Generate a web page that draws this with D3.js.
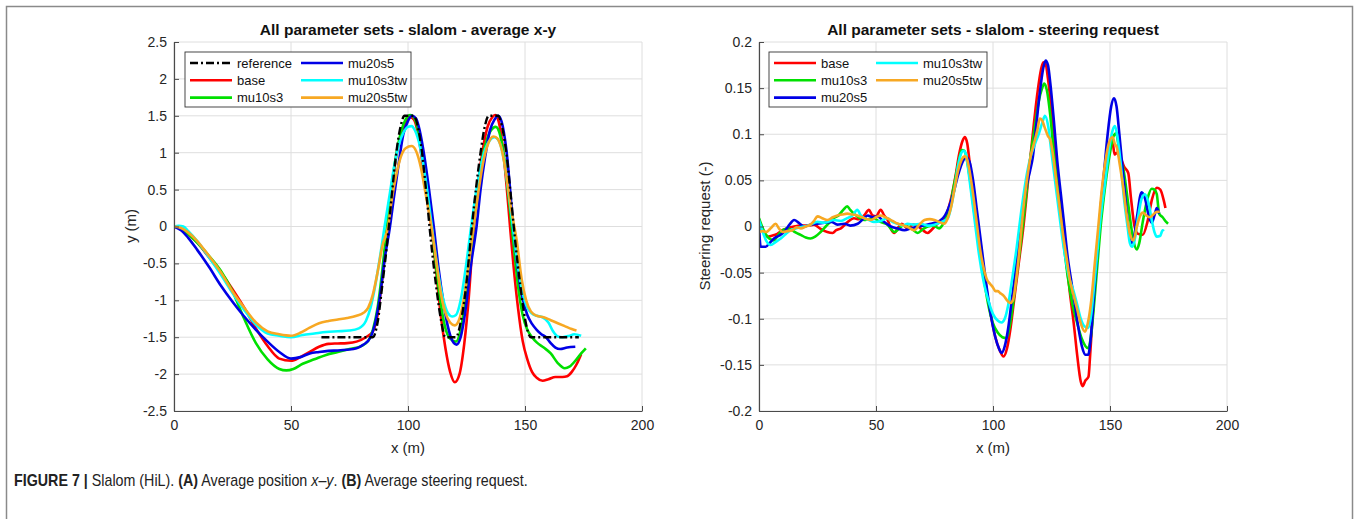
<!DOCTYPE html>
<html>
<head>
<meta charset="utf-8">
<script src="https://cdn.jsdelivr.net/npm/d3@7"></script>
<style>
  body { margin:0; background:#fff; }
  svg { display:block; font-family:"Liberation Sans", Arial, sans-serif; }
</style>
</head>
<body>
<div class="container"></div>
<script>
// ---- data ----
var xTicks = [0, 50, 100, 150, 200];
var xyYTicks = [-2.5, -2, -1.5, -1, -0.5, 0, 0.5, 1, 1.5, 2, 2.5];
var stYTicks = [-0.2, -0.15, -0.1, -0.05, 0, 0.05, 0.1, 0.15, 0.2];

var xyReference = [[63,-1.5],[85,-1.5],[87,-1.3],[89,-0.8],[91.5,-0.1],[93,0.4],[95,1.0],[97,1.38],[98.5,1.5],[102.5,1.5],[104,1.38],[106,1.0],[108,0.4],[109.5,-0.1],[112,-0.8],[114,-1.25],[116,-1.5],[120.5,-1.5],[122.5,-1.3],[124.5,-0.9],[127,-0.1],[129,0.5],[131,1.0],[133,1.38],[134.5,1.5],[138.5,1.5],[140,1.38],[142,1.0],[144,0.4],[145.5,-0.1],[148,-0.8],[150,-1.25],[152.5,-1.5],[173,-1.5]];
var xyBase = [[0,0],[3,-0.03],[6,-0.1],[10,-0.22],[15,-0.42],[20,-0.62],[25,-0.85],[30,-1.1],[35,-1.38],[40,-1.62],[45,-1.79],[50,-1.82],[54,-1.77],[58,-1.7],[62,-1.63],[66,-1.59],[70,-1.585],[74,-1.58],[78,-1.56],[82,-1.5],[85,-1.42],[87,-1.2],[89,-0.7],[91,-0.1],[93,0.5],[95,0.95],[97,1.25],[99,1.42],[101,1.48],[102.5,1.45],[104,1.3],[106,0.9],[108,0.4],[110,0],[112,-0.6],[114,-1.2],[116,-1.65],[118,-1.97],[120,-2.11],[122,-2.0],[124,-1.6],[126,-0.95],[128,-0.05],[130,0.6],[132,1.05],[134,1.35],[136,1.48],[137.2,1.51],[138.5,1.45],[140,1.2],[142,0.6],[143.6,0],[145,-0.5],[147,-1.1],[149,-1.55],[151,-1.8],[153,-1.97],[155,-2.05],[157.5,-2.09],[160,-2.07],[163,-2.04],[166,-2.04],[168,-2.03],[170,-1.97],[172,-1.87],[174,-1.73]];
var xyMu10s3 = [[0,0],[3,-0.03],[6,-0.1],[10,-0.22],[15,-0.4],[20,-0.6],[25,-0.88],[30,-1.25],[35,-1.58],[40,-1.8],[45,-1.93],[48,-1.95],[51,-1.93],[55,-1.86],[60,-1.8],[65,-1.74],[70,-1.7],[75,-1.66],[80,-1.62],[83,-1.55],[85,-1.4],[87,-1.1],[89,-0.6],[91,0],[93,0.55],[95,0.98],[97,1.28],[99,1.45],[101,1.51],[102.5,1.48],[104,1.35],[106,1.0],[108,0.5],[110,0.05],[112,-0.55],[114,-1.05],[116,-1.38],[118,-1.52],[120.5,-1.56],[122.5,-1.4],[124.5,-1.0],[127,-0.3],[129,0.3],[131,0.8],[133,1.1],[135,1.28],[137.5,1.35],[139,1.28],[141,0.95],[143,0.4],[145,-0.2],[147,-0.8],[149,-1.2],[151,-1.4],[153,-1.5],[155,-1.57],[158,-1.64],[161,-1.72],[164,-1.85],[167,-1.92],[169,-1.9],[172,-1.8],[174,-1.72],[176,-1.65]];
var xyMu20s5 = [[0,0],[3,-0.05],[6,-0.15],[10,-0.32],[15,-0.55],[20,-0.8],[25,-1.02],[30,-1.22],[35,-1.4],[40,-1.56],[45,-1.7],[50,-1.79],[54,-1.77],[58,-1.72],[62,-1.7],[66,-1.685],[70,-1.68],[74,-1.67],[78,-1.65],[81,-1.6],[84,-1.5],[86,-1.3],[88,-0.95],[90,-0.45],[92.3,0],[94,0.4],[96,0.85],[98,1.25],[100,1.43],[101.8,1.5],[103.5,1.46],[105,1.3],[107,0.95],[109,0.5],[111,0.0],[113,-0.55],[115,-1.0],[117,-1.35],[119,-1.55],[120.8,-1.6],[122.5,-1.5],[124.5,-1.15],[127,-0.5],[129.3,0],[131,0.5],[133,0.95],[135,1.3],[137,1.45],[138.6,1.5],[140,1.42],[142,1.05],[145,0],[147,-0.6],[149,-0.98],[151,-1.2],[153,-1.32],[155,-1.4],[157,-1.46],[159,-1.5],[161,-1.58],[163,-1.64],[165,-1.66],[168,-1.64],[171.5,-1.63]];
var xyMu10s3tw = [[0,0],[2,0.01],[4,0],[6,-0.06],[10,-0.2],[15,-0.42],[20,-0.65],[25,-0.9],[30,-1.13],[35,-1.33],[40,-1.45],[45,-1.48],[50,-1.5],[55,-1.47],[60,-1.45],[65,-1.43],[70,-1.42],[75,-1.41],[79,-1.38],[82,-1.28],[84,-1.1],[86,-0.8],[88,-0.42],[90,0],[92,0.4],[94,0.8],[96,1.1],[98,1.27],[100,1.35],[101.5,1.36],[103,1.3],[105,1.1],[107,0.75],[109,0.3],[111,-0.2],[113,-0.65],[115,-0.98],[117,-1.17],[119,-1.22],[120.5,-1.2],[122.5,-1.0],[124.5,-0.6],[127,0],[129,0.45],[131,0.8],[133,1.05],[135,1.17],[137,1.21],[139,1.15],[141,0.9],[143,0.45],[145,-0.05],[147,-0.55],[149,-0.9],[151,-1.1],[153,-1.18],[155,-1.21],[157.5,-1.23],[160,-1.3],[162,-1.42],[164,-1.49],[166,-1.5],[169,-1.48],[171,-1.46],[174,-1.48]];
var xyMu20s5tw = [[0,0],[3,-0.02],[6,-0.08],[10,-0.2],[15,-0.4],[20,-0.62],[25,-0.88],[30,-1.1],[35,-1.3],[40,-1.42],[45,-1.46],[50,-1.48],[54,-1.44],[58,-1.37],[62,-1.31],[66,-1.28],[70,-1.26],[74,-1.24],[78,-1.21],[81,-1.17],[83,-1.1],[85,-0.92],[87,-0.62],[89,-0.27],[91.5,0],[93,0.35],[95,0.7],[97,0.95],[99,1.06],[101.5,1.09],[103.5,1.02],[105.5,0.8],[107.5,0.45],[110,0],[112,-0.45],[114,-0.9],[116,-1.17],[118,-1.3],[120,-1.34],[122,-1.25],[124,-0.95],[126,-0.5],[128,0],[130,0.45],[132,0.85],[134,1.1],[136.5,1.22],[138,1.2],[140,1.05],[142,0.7],[144,0.25],[146.5,-0.2],[148.5,-0.7],[150.5,-1.0],[152.5,-1.15],[155,-1.21],[158,-1.23],[161,-1.27],[164,-1.31],[167,-1.35],[170,-1.39],[172,-1.41]];

var stBase = [[0,0.003],[1.5,-0.004],[3.6,-0.011],[5.5,-0.01],[7.8,-0.008],[10,-0.004],[12.1,-0.002],[15,0.0],[18,0.001],[21,0.001],[23.5,0.002],[26,-0.002],[29.2,-0.006],[31.5,-0.007],[33,-0.004],[35,-0.002],[37.5,0.004],[40.6,0.009],[42.5,0.008],[44.9,0.012],[47,0.018],[48.5,0.012],[50,0.011],[52,0.018],[53.5,0.012],[55,0.007],[56.5,-0.003],[57.8,-0.007],[59.5,-0.001],[61,0.003],[63.5,-0.002],[66,0.002],[68,0.0],[70,-0.004],[72,-0.007],[74,-0.003],[75.5,0.001],[77.8,0.007],[79.5,0.01],[81,0.02],[82.5,0.035],[84,0.055],[85.5,0.078],[87,0.093],[88,0.097],[89,0.09],[90,0.07],[91.5,0.04],[93,0.01],[95,-0.03],[97,-0.065],[99,-0.095],[101,-0.12],[103,-0.135],[104.5,-0.141],[106,-0.132],[107.5,-0.11],[109,-0.08],[111,-0.04],[113,0.0],[115,0.05],[117,0.1],[119,0.145],[120.5,0.17],[121.5,0.178],[122.5,0.176],[123.5,0.16],[125,0.125],[126.5,0.08],[128,0.04],[129.5,0.005],[131,-0.03],[133,-0.075],[134.5,-0.105],[136,-0.14],[137.5,-0.168],[138.3,-0.173],[139.5,-0.167],[140.8,-0.163],[141.5,-0.14],[142.5,-0.1],[144,-0.05],[145.5,0.0],[147,0.04],[148.5,0.07],[150,0.088],[151,0.092],[152,0.078],[153,0.08],[154.5,0.075],[156,0.065],[157.8,0.058],[159,0.03],[160.5,0.0],[162,-0.008],[164,-0.009],[166,0.005],[168,0.03],[170,0.042],[171.5,0.04],[173,0.028],[173.7,0.02]];
var stMu10s3 = [[0,0.009],[1.8,-0.003],[3.6,-0.011],[5,-0.014],[6.4,-0.015],[8,-0.01],[9.3,-0.006],[11,-0.003],[12.1,-0.002],[14,-0.004],[16,-0.007],[17.8,-0.009],[20,-0.012],[22,-0.013],[24,-0.011],[26.3,-0.006],[28.5,0.0],[30,0.004],[32,0.009],[34,0.012],[36,0.018],[37.7,0.022],[39,0.018],[40.6,0.014],[42.5,0.01],[44.9,0.007],[47,0.008],[49.1,0.009],[51,0.006],[53,0.004],[54.9,0.002],[56.5,-0.003],[57.8,-0.006],[60,-0.002],[61.5,0.001],[63.5,0.0],[65.5,-0.003],[67.8,-0.007],[70,-0.003],[72.1,0.0],[74.5,0.001],[77,-0.002],[78.5,0.002],[79.9,0.009],[81.5,0.02],[83,0.04],[84.5,0.06],[86,0.078],[86.6,0.083],[87.8,0.082],[89,0.07],[90.5,0.045],[92,0.015],[94,-0.02],[96,-0.055],[98,-0.085],[100,-0.105],[102,-0.115],[104,-0.12],[105.8,-0.121],[107,-0.11],[108.5,-0.085],[110,-0.055],[112,-0.015],[114,0.03],[116,0.075],[118,0.11],[119.5,0.135],[121,0.15],[121.9,0.155],[123,0.148],[124.5,0.12],[126,0.08],[127.5,0.045],[129,0.01],[130.5,-0.025],[132,-0.055],[134,-0.085],[136,-0.105],[138,-0.122],[140.7,-0.132],[141.8,-0.12],[143,-0.09],[144.5,-0.045],[146,0.0],[148,0.045],[150,0.08],[151.5,0.098],[152.6,0.101],[153.5,0.09],[154.5,0.07],[155.5,0.065],[157,0.04],[158.5,0.01],[160,-0.015],[161.4,-0.025],[162.5,-0.018],[164,0.005],[166,0.03],[167.8,0.041],[169,0.04],[170,0.035],[171,0.014],[172.5,0.01],[174,0.005],[174.8,0.003]];
var stMu20s5 = [[0,0.002],[0.7,-0.022],[2.9,-0.022],[4.5,-0.018],[6.4,-0.013],[8.5,-0.01],[10.7,-0.006],[13,0.002],[15,0.007],[17,0.004],[19.2,0.0],[22,0.002],[25,0.003],[28,0.004],[31,0.005],[33.5,0.002],[36.5,0.003],[39,0.001],[42.2,0.003],[44.5,0.008],[46.5,0.012],[48.5,0.01],[50.7,0.011],[53,0.006],[56.4,0.0],[59,-0.002],[62.1,-0.004],[65,-0.002],[67.8,0.0],[70.5,0.001],[73.5,0.003],[76,0.005],[77.8,0.007],[79.5,0.012],[81,0.02],[83,0.035],[85,0.055],[87,0.07],[88.5,0.075],[90,0.07],[91.5,0.05],[93,0.02],[95,-0.02],[97,-0.06],[99,-0.095],[101,-0.12],[102.5,-0.132],[103.7,-0.137],[105,-0.13],[106.5,-0.11],[108,-0.08],[110,-0.04],[112,0.0],[114,0.04],[115.8,0.06],[117,0.075],[118.5,0.11],[120,0.145],[121.5,0.172],[122.5,0.18],[123.5,0.175],[124.5,0.155],[126,0.115],[127.5,0.07],[129,0.035],[130.5,0.0],[132,-0.035],[133.5,-0.06],[135,-0.085],[136.5,-0.11],[138,-0.13],[139.5,-0.139],[140.7,-0.139],[141.8,-0.12],[143,-0.08],[144.5,-0.03],[146,0.02],[147.5,0.06],[149,0.1],[150.5,0.13],[151.7,0.139],[152.8,0.13],[154,0.1],[155.5,0.06],[157,0.02],[158,-0.005],[159,-0.018],[160,-0.015],[161.5,0.01],[163.5,0.037],[165,0.03],[166.5,0.012],[167.8,0.004],[169,0.012],[170,0.02],[171,0.014]];
var stMu10s3tw = [[0,0.007],[1.5,-0.005],[3,-0.015],[5,-0.02],[7,-0.017],[9.3,-0.013],[11.5,-0.008],[13.6,-0.004],[16,-0.002],[19.2,0.0],[22,0.002],[24.9,0.005],[28,0.004],[32,0.007],[35,0.006],[37.7,0.009],[40,0.012],[42,0.018],[43.5,0.012],[44.9,0.009],[47,0.007],[49.1,0.005],[52,0.006],[54.9,0.009],[57,0.005],[59.2,0.003],[61.5,0.001],[63.5,0.003],[66,0.002],[69.2,0.003],[72,0.001],[75,0.002],[78,0.005],[80.7,0.009],[82,0.02],[83.5,0.04],[85,0.065],[86.5,0.08],[87.5,0.082],[88.5,0.078],[89.5,0.06],[91,0.03],[92.5,0.0],[94,-0.03],[96,-0.06],[98,-0.08],[100,-0.095],[102,-0.102],[103.7,-0.104],[105,-0.1],[106.5,-0.085],[108,-0.06],[110,-0.025],[112,0.015],[114,0.05],[116,0.075],[118,0.09],[119.5,0.1],[121,0.112],[122.2,0.12],[123.5,0.11],[125,0.08],[126.5,0.05],[128,0.02],[129.5,-0.01],[131,-0.035],[132.5,-0.055],[134.3,-0.069],[136,-0.085],[137.5,-0.1],[139,-0.108],[140.7,-0.11],[142,-0.095],[143,-0.07],[144.5,-0.03],[146,0.01],[148,0.05],[150,0.09],[151.2,0.105],[152.1,0.109],[153,0.1],[154.5,0.07],[156,0.03],[157.5,0.0],[158.5,-0.018],[159.5,-0.022],[160.5,-0.015],[162,0.01],[163.5,0.03],[165,0.035],[166.5,0.025],[168,0.005],[169,-0.006],[170,-0.011],[171.5,-0.01],[172.5,-0.004],[173,-0.005]];
var stMu20s5tw = [[0,-0.006],[1.5,-0.005],[3,-0.006],[5,-0.002],[7.1,0.003],[8.5,-0.002],[10,-0.006],[12,-0.005],[14.3,-0.004],[16,-0.001],[17.9,-0.002],[20,0.0],[22,0.002],[23.5,0.006],[25,0.011],[27,0.009],[29.2,0.007],[31.5,0.01],[33.5,0.012],[35.5,0.013],[37.7,0.014],[40,0.013],[42,0.012],[44,0.01],[46,0.008],[47.8,0.007],[50,0.01],[52,0.012],[54,0.01],[56.4,0.007],[58.5,0.004],[60.7,0.002],[63,0.0],[64.5,-0.002],[66.4,-0.004],[68.5,0.002],[70.7,0.007],[73,0.008],[75,0.007],[77,0.005],[79.2,0.003],[80.5,0.008],[82,0.02],[83.5,0.04],[85,0.06],[86.5,0.072],[88,0.076],[89,0.072],[90,0.06],[91.5,0.035],[93,0.005],[94.5,-0.025],[96,-0.045],[97.5,-0.058],[98.7,-0.062],[100,-0.066],[101,-0.07],[102,-0.07],[103,-0.072],[104.5,-0.075],[106,-0.08],[107.3,-0.083],[108.5,-0.08],[110,-0.055],[111.5,-0.02],[113,0.02],[114.5,0.05],[116,0.075],[117.5,0.09],[119,0.105],[120,0.117],[121,0.115],[122,0.108],[123.5,0.098],[124.5,0.094],[125.5,0.08],[127,0.05],[128.5,0.02],[130,-0.01],[131.5,-0.035],[133,-0.06],[134.5,-0.075],[136,-0.09],[137.5,-0.105],[139.3,-0.114],[140.5,-0.105],[142,-0.08],[143.5,-0.04],[145,0.0],[146.5,0.04],[148,0.07],[149.5,0.09],[151.1,0.097],[152,0.09],[153,0.085],[154,0.07],[155.5,0.045],[157,0.015],[158.5,-0.008],[160,-0.015],[161.5,0.0],[162.8,0.011],[164,0.015],[165.5,0.012],[167,0.01],[168.5,0.013],[170,0.016],[171.3,0.016]];

// colours per set
var colors = {reference:"#000000", base:"#ff0000", mu10s3:"#00e000", mu20s5:"#0000e6", mu10s3tw:"#00ffff", mu20s5tw:"#f7a823"};

var w = 1354, h = 519;
var svg = d3.select(".container").append("svg")
  .attr("width", w).attr("height", h);

// outer frame of the figure
svg.append("rect")
  .attr("x", 6.5).attr("y", 6.5)
  .attr("width", 1346).attr("height", 560)
  .attr("fill", "none").attr("stroke", "#8a8a8a").attr("stroke-width", 1.5);

function drawPanel(opt) {
  var x = d3.scaleLinear().domain([0, 200]).range([opt.left, opt.right]);
  var y = d3.scaleLinear().domain(opt.yDomain).range([411, 42]);
  var g = svg.append("g");

  // grid
  g.selectAll(".gx").data(xTicks).enter().append("line")
    .attr("x1", function(d){ return x(d); }).attr("x2", function(d){ return x(d); })
    .attr("y1", 42).attr("y2", 411)
    .attr("stroke", "#dedede").attr("stroke-width", 1);
  g.selectAll(".gy").data(opt.yTicks).enter().append("line")
    .attr("x1", opt.left).attr("x2", opt.right)
    .attr("y1", function(d){ return y(d); }).attr("y2", function(d){ return y(d); })
    .attr("stroke", "#dedede").attr("stroke-width", 1);

  // lines
  var clipId = "clip" + opt.left;
  svg.append("clipPath").attr("id", clipId).append("rect")
    .attr("x", opt.left).attr("y", 40).attr("width", opt.right - opt.left + 2).attr("height", 373);
  var line = d3.line()
    .x(function(d){ return x(d[0]); })
    .y(function(d){ return y(d[1]); })
    .curve(d3.curveMonotoneX);
  var lg = g.append("g").attr("clip-path", "url(#" + clipId + ")");
  opt.series.forEach(function(s) {
    lg.append("path")
      .datum(s.data)
      .attr("d", line)
      .attr("fill", "none")
      .attr("stroke", colors[s.name])
      .attr("stroke-width", s.name == "reference" ? 2.4 : 2.6)
      .attr("stroke-dasharray", s.name == "reference" ? "8,3,2,3" : null)
      .attr("stroke-linejoin", "round");
  });

  // axes (MATLAB style, ticks inward, box off)
  var xAxis = d3.axisBottom(x).tickValues(xTicks).tickSizeInner(-5).tickSizeOuter(0).tickPadding(9)
    .tickFormat(function(d){ return String(d); });
  var yAxis = d3.axisLeft(y).tickValues(opt.yTicks).tickSizeInner(-5).tickSizeOuter(0).tickPadding(7)
    .tickFormat(function(d){ return String(d); });
  var ax = g.append("g").attr("transform", "translate(0,411)").call(xAxis);
  var ay = g.append("g").attr("transform", "translate(" + opt.left + ",0)").call(yAxis);
  [ax, ay].forEach(function(a) {
    a.select(".domain").attr("stroke", "#4a4a4a").attr("stroke-width", 1.2);
    a.selectAll(".tick line").attr("stroke", "#4a4a4a");
    a.selectAll(".tick text").attr("fill", "#262626")
      .style("font-size", "14px").style("font-family", "'Liberation Sans', Arial, sans-serif");
  });

  // title and labels
  svg.append("text")
    .attr("x", (opt.left + opt.right) / 2).attr("y", 35)
    .attr("text-anchor", "middle")
    .style("font-size", "15.5px").style("font-weight", "bold").attr("fill", "#111")
    .text(opt.title);
  svg.append("text")
    .attr("x", (opt.left + opt.right) / 2).attr("y", 453)
    .attr("text-anchor", "middle")
    .style("font-size", "15px").attr("fill", "#262626")
    .text("x (m)");
  svg.append("text")
    .attr("transform", "translate(" + opt.yLabelX + ",226) rotate(-90)")
    .attr("text-anchor", "middle")
    .style("font-size", "15px").attr("fill", "#262626")
    .text(opt.yLabel);

  // legend
  var L = opt.legend;
  svg.append("rect")
    .attr("x", L.x).attr("y", 52).attr("width", L.w).attr("height", 55)
    .attr("fill", "#fff").attr("stroke", "#333").attr("stroke-width", 0.9);
  L.items.forEach(function(name, i) {
    var col = Math.floor(i / 3), row = i % 3;
    var lx = L.x + 5 + col * L.colW, ly = 63 + row * 17.3;
    svg.append("line")
      .attr("x1", lx).attr("x2", lx + 42).attr("y1", ly).attr("y2", ly)
      .attr("stroke", colors[name]).attr("stroke-width", 2.6)
      .attr("stroke-dasharray", name == "reference" ? "8,3,2,3" : null);
    svg.append("text")
      .attr("x", lx + 47).attr("y", ly + 4.6)
      .style("font-size", "13px").attr("fill", "#111")
      .text(name);
  });
}

drawPanel({
  left: 174, right: 642, yDomain: [-2.5, 2.5], yTicks: xyYTicks,
  title: "All parameter sets - slalom - average x-y",
  yLabel: "y (m)", yLabelX: 136,
  series: [
    {name:"base", data:xyBase}, {name:"mu10s3", data:xyMu10s3}, {name:"mu20s5", data:xyMu20s5},
    {name:"mu10s3tw", data:xyMu10s3tw}, {name:"mu20s5tw", data:xyMu20s5tw},
    {name:"reference", data:xyReference}
  ],
  legend: {x: 185, w: 226, colW: 111, items: ["reference", "base", "mu10s3", "mu20s5", "mu10s3tw", "mu20s5tw"]}
});

drawPanel({
  left: 759, right: 1227, yDomain: [-0.2, 0.2], yTicks: stYTicks,
  title: "All parameter sets - slalom - steering request",
  yLabel: "Steering request (-)", yLabelX: 710,
  series: [
    {name:"base", data:stBase}, {name:"mu10s3", data:stMu10s3}, {name:"mu20s5", data:stMu20s5},
    {name:"mu10s3tw", data:stMu10s3tw}, {name:"mu20s5tw", data:stMu20s5tw}
  ],
  legend: {x: 769, w: 218, colW: 102, items: ["base", "mu10s3", "mu20s5", "mu10s3tw", "mu20s5tw"]}
});

// caption: condensed look by scaling a normal sans horizontally
var capG = svg.append("g");
var cap = capG.append("text")
  .attr("x", 0).attr("y", 0)
  .style("font-family", "'Liberation Sans', Arial, sans-serif")
  .style("font-size", "16px").attr("fill", "#222");
var parts = [
  ["FIGURE 7 | ", "bold", "normal"], ["Slalom (HiL). ", "normal", "normal"],
  ["(A)", "bold", "normal"], [" Average position ", "normal", "normal"],
  ["x–y", "normal", "italic"], [". ", "normal", "normal"],
  ["(B)", "bold", "normal"], [" Average steering request.", "normal", "normal"]
];
parts.forEach(function(p) {
  cap.append("tspan").style("font-weight", p[1]).style("font-style", p[2]).text(p[0]);
});
var capLen = cap.node().getComputedTextLength();
capG.attr("transform", "translate(14,486) scale(" + (514 / capLen) + ",1)");
</script>
</body>
</html>
